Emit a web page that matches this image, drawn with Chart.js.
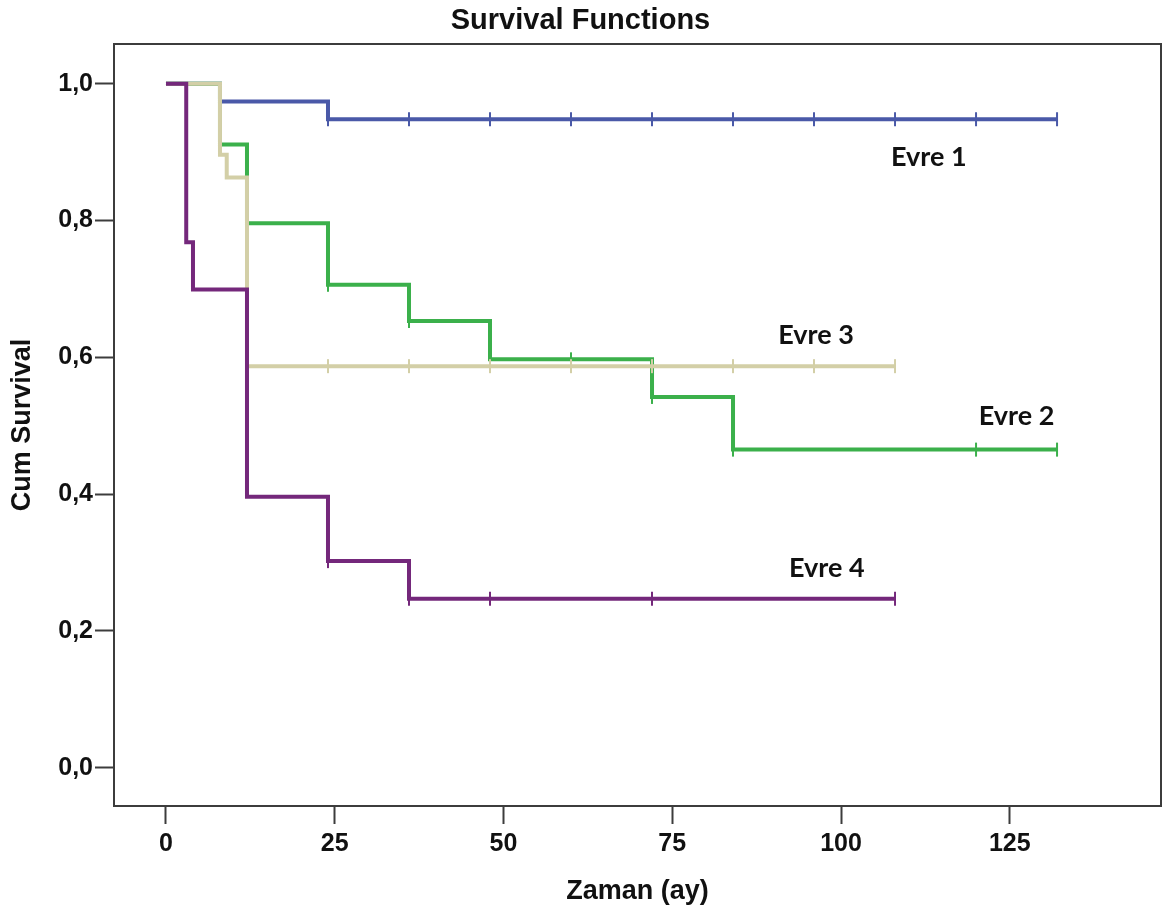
<!DOCTYPE html>
<html>
<head>
<meta charset="utf-8">
<title>Survival Functions</title>
<script src="https://cdn.jsdelivr.net/npm/chart.js@4.4.1/dist/chart.umd.min.js"></script>
<style>
  html, body { margin: 0; padding: 0; background: #ffffff; }
  canvas { display: block; }
</style>
</head>
<body>
<canvas id="km" width="1171" height="918"></canvas>
<script>
// Kaplan-Meier estimates by stage (Evre): event times (months) and cumulative survival after each step
const seriesNames = ['Evre 1', 'Evre 2', 'Evre 3', 'Evre 4'];

const evre1Time = [0, 8, 24, 132];
const evre1Surv = [1.0, 0.974, 0.948, 0.948];
const evre1Censored = [24, 36, 48, 60, 72, 84, 96, 108, 120, 132];

const evre2Time = [0, 8, 12, 24, 36, 48, 72, 84, 132];
const evre2Surv = [1.0, 0.911, 0.796, 0.706, 0.653, 0.597, 0.542, 0.465, 0.465];
const evre2Censored = [24, 36, 48, 60, 72, 84, 120, 132];

const evre3Time = [0, 8, 9, 12, 108];
const evre3Surv = [1.0, 0.896, 0.863, 0.587, 0.587];
const evre3Censored = [24, 36, 48, 60, 72, 84, 96, 108];

const evre4Time = [0, 3, 4, 12, 24, 36, 108];
const evre4Surv = [1.0, 0.768, 0.699, 0.396, 0.302, 0.247, 0.247];
const evre4Censored = [24, 36, 48, 72, 108];

// Axis ticks
const xTickValues = [0, 25, 50, 75, 100, 125];
const yTickValues = [0, 0.2, 0.4, 0.6, 0.8, 1.0];
const yTickLabels = ['0,0', '0,2', '0,4', '0,6', '0,8', '1,0'];

// Styling per stage
const stageStyle = {
  'Evre 1': { color: '#4a59a8', order: 3 },
  'Evre 2': { color: '#3bb04b', order: 2 },
  'Evre 3': { color: '#d3cfa7', order: 1 },
  'Evre 4': { color: '#74287b', order: 0 }
};

// Where each stage name is written, in data units
const stageLabelAnchor = {
  'Evre 1': { x: 113.0, y: 0.893 },
  'Evre 2': { x: 126.0, y: 0.513 },
  'Evre 3': { x: 96.3, y: 0.632 },
  'Evre 4': { x: 97.9, y: 0.292 }
};

const stageData = {
  'Evre 1': { t: evre1Time, s: evre1Surv, c: evre1Censored },
  'Evre 2': { t: evre2Time, s: evre2Surv, c: evre2Censored },
  'Evre 3': { t: evre3Time, s: evre3Surv, c: evre3Censored },
  'Evre 4': { t: evre4Time, s: evre4Surv, c: evre4Censored }
};

// survival value of a step curve at time t (value after any step at t)
function survivalAt(times, surv, t) {
  let v = surv[0];
  for (let i = 0; i < times.length; i++) {
    if (times[i] <= t) v = surv[i];
  }
  return v;
}

const datasets = [];
seriesNames.forEach(name => {
  const d = stageData[name];
  const st = stageStyle[name];
  datasets.push({
    label: name,
    data: d.t.map((t, i) => ({ x: t, y: d.s[i] })),
    stepped: 'before',
    borderColor: st.color,
    borderWidth: 4,
    pointRadius: 0,
    fill: false,
    order: st.order
  });
  datasets.push({
    label: name + ' censored',
    data: d.c.map(t => ({ x: t, y: survivalAt(d.t, d.s, t) })),
    showLine: false,
    pointStyle: 'line',
    pointRotation: 90,
    pointRadius: 7,
    pointBorderWidth: 2,
    pointBorderColor: st.color,
    pointBackgroundColor: st.color,
    order: st.order
  });
});

// box around the plotting area
const frameBox = {
  id: 'frameBox',
  afterDatasetsDraw(chart) {
    const { ctx, chartArea: a } = chart;
    ctx.save();
    ctx.strokeStyle = '#3c3c3c';
    ctx.lineWidth = 2;
    ctx.strokeRect(a.left, a.top, a.right - a.left, a.bottom - a.top);
    ctx.restore();
  }
};

// stage names written next to their curves
const stageLabels = {
  id: 'stageLabels',
  afterDatasetsDraw(chart) {
    const { ctx, scales: { x, y } } = chart;
    ctx.save();
    ctx.font = "bold 27px Lato, 'Open Sans', sans-serif";
    ctx.fillStyle = '#111111';
    ctx.textAlign = 'center';
    ctx.textBaseline = 'middle';
    seriesNames.forEach(name => {
      const p = stageLabelAnchor[name];
      ctx.fillText(name, x.getPixelForValue(p.x), y.getPixelForValue(p.y));
    });
    ctx.restore();
  }
};

Chart.defaults.font.family = "'Liberation Sans', Arial, sans-serif";
Chart.defaults.color = '#111111';

new Chart(document.getElementById('km'), {
  type: 'line',
  data: { datasets },
  options: {
    responsive: false,
    animation: false,
    devicePixelRatio: 1,
    layout: { padding: { top: 0, right: 10, bottom: 0, left: 0 } },
    plugins: {
      legend: { display: false },
      tooltip: { enabled: false },
      title: {
        display: true,
        text: 'Survival Functions',
        color: '#111111',
        font: { size: 29, weight: 'bold', lineHeight: 1.2 },
        padding: { top: 3.5, bottom: 5.7 }
      }
    },
    scales: {
      x: {
        type: 'linear',
        min: -7.7,
        max: 147.4,
        afterBuildTicks(scale) { scale.ticks = xTickValues.map(v => ({ value: v })); },
        afterFit(scale) { scale.height = 112; },
        ticks: {
          color: '#111111',
          font: { size: 25, weight: 'bold', lineHeight: 1.2 },
          padding: 5,
          maxRotation: 0,
          callback: v => String(v)
        },
        grid: { display: true, drawOnChartArea: false, drawTicks: true, tickLength: 18, tickWidth: 2, tickColor: '#3c3c3c' },
        border: { display: false },
        title: {
          display: true,
          text: 'Zaman (ay)',
          color: '#111111',
          font: { size: 27, weight: 'bold', lineHeight: 1.2 },
          padding: { top: 0, bottom: 9.8 }
        }
      },
      y: {
        type: 'linear',
        min: -0.056,
        max: 1.058,
        afterBuildTicks(scale) { scale.ticks = yTickValues.map(v => ({ value: v })); },
        afterFit(scale) { scale.width = 114; },
        ticks: {
          color: '#111111',
          font: { size: 25, weight: 'bold', lineHeight: 1.2 },
          padding: 2,
          callback: v => yTickLabels[yTickValues.findIndex(t => Math.abs(t - v) < 1e-9)]
        },
        grid: { display: true, drawOnChartArea: false, drawTicks: true, tickLength: 19, tickWidth: 2, tickColor: '#3c3c3c' },
        border: { display: false },
        title: {
          display: true,
          text: 'Cum Survival',
          color: '#111111',
          font: { size: 27, weight: 'bold', lineHeight: 1.2 },
          padding: { top: 6.8, bottom: 0 }
        }
      }
    }
  },
  plugins: [frameBox, stageLabels]
});
</script>
</body>
</html>
